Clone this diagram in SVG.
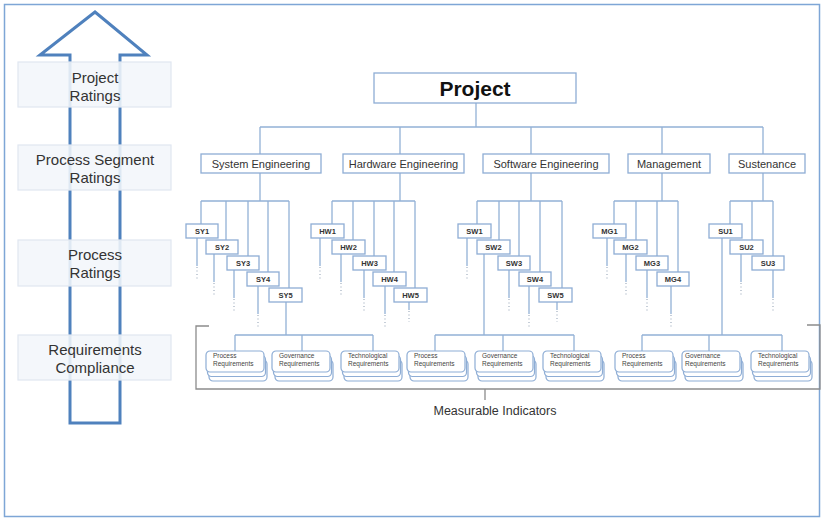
<svg xmlns="http://www.w3.org/2000/svg" width="823" height="519" viewBox="0 0 823 519">
<style>
.ln{stroke:#93b1d6;stroke-width:1.3;fill:none}
.dot{stroke:#a8b4c4;stroke-width:1.3;stroke-dasharray:1 2.5;fill:none}
.bx{fill:#fff;stroke:#8eadd5;stroke-width:1.3}
.lb{fill:#f3f6fb;fill-opacity:0.88;stroke:#dfe6f1;stroke-width:1.2}
.lt{font-family:"Liberation Sans",Arial,sans-serif;font-size:15px;fill:#333;text-anchor:middle}
.st{font-family:"Liberation Sans",Arial,sans-serif;font-size:11px;fill:#333;text-anchor:middle}
.ct{font-family:"Liberation Sans",Arial,sans-serif;font-size:7.5px;font-weight:bold;fill:#333;text-anchor:middle}
.rq{fill:#fff;stroke:#8eadd5;stroke-width:1.2}
.rt{font-family:"Liberation Sans",Arial,sans-serif;font-size:6.5px;fill:#444}
.br{stroke:#8c8c8c;stroke-width:1.3;fill:none}
</style>
<defs>
<g id="stack">
<rect class="rq" x="3" y="9" width="58" height="21" rx="4"/>
<rect class="rq" x="1.5" y="4.5" width="58" height="21" rx="4"/>
<rect class="rq" x="0" y="0" width="58" height="21" rx="4"/>
</g>
</defs>
<rect x="4.5" y="4.5" width="815" height="512" fill="#fff" stroke="#7ea6d6" stroke-width="1.5"/>

<g id="arrow">
<polygon points="95,12 147,55 120,55 120,423 70,423 70,55 40,55" fill="none" stroke="#4f81bd" stroke-width="3" stroke-linejoin="miter"/>
</g>
<g id="label-project-ratings"><rect class="lb" x="18" y="62" width="153" height="45"/><text class="lt" x="95" y="83">Project</text><text class="lt" x="95" y="101">Ratings</text></g>
<g id="label-segment-ratings"><rect class="lb" x="18" y="145" width="153" height="45"/><text class="lt" x="95" y="165">Process Segment</text><text class="lt" x="95" y="183">Ratings</text></g>
<g id="label-process-ratings"><rect class="lb" x="18" y="240" width="153" height="46"/><text class="lt" x="95" y="260">Process</text><text class="lt" x="95" y="278">Ratings</text></g>
<g id="label-req-compliance"><rect class="lb" x="18" y="335" width="153" height="45"/><text class="lt" x="95" y="355">Requirements</text><text class="lt" x="95" y="373">Compliance</text></g>

<g id="connectors">
<path class="ln" d="M476,103V127M260,127H763M260,127V154M400,127V154M531,127V154M662,127V154M763,127V154"/>
<path class="ln" d="M260,173V201M201,201H289M201,201V224M226,201V240M248,201V256M268,201V272M289,201V288"/>
<path class="ln" d="M400,173V201M332,201H415M332,201V224M353,201V240M374,201V256M394,201V272M415,201V288"/>
<path class="ln" d="M531,173V201M477,201H562M477,201V224M499,201V240M519,201V256M540,201V272M562,201V288"/>
<path class="ln" d="M662,173V201M614,201H678M614,201V224M636,201V240M657,201V256M678,201V272"/>
<path class="ln" d="M763,173V201M730,201H773M730,201V224M752,201V240M773,201V256"/>
<path class="ln" d="M197,238V266M214,254V282M234,270V298M258,286V314M320,238V266M341,254V282M364,270V298M385,286V314M409,302V310M467,238V266M509,270V298M529,286V314M557,302V310M607,238V266M626,254V282M647,270V298M671,286V314M741,254V282M773,270V298"/>
<path class="dot" d="M197,267V281M214,283V297M234,299V313M258,315V329M320,267V281M341,283V297M364,299V313M385,315V329M409,311V322M467,267V281M509,299V313M529,315V329M557,311V322M607,267V281M626,283V297M647,299V313M671,315V329M741,283V297M773,299V313"/>
<path class="ln" d="M286,302V335M235,335H373M235,335V351M302,335V351M373,335V351"/>
<path class="ln" d="M484,254V335M435,335H574M435,335V351M503,335V351M574,335V351"/>
<path class="ln" d="M722,238V335M642,335H782M642,335V351M709,335V351M782,335V351"/>
<path class="br" d="M209,326H196V389H820V325H807M485,389V400"/>
</g>

<g id="project"><rect class="bx" x="374" y="73" width="202" height="30"/><text x="475" y="96" text-anchor="middle" font-family="Liberation Sans,Arial,sans-serif" font-size="21" font-weight="bold" fill="#111">Project</text></g>

<g id="system-engineering"><rect class="bx" x="201" y="154" width="120" height="19"/><text class="st" x="261" y="168">System Engineering</text></g>
<g id="hardware-engineering"><rect class="bx" x="343" y="154" width="121" height="19"/><text class="st" x="403.5" y="168">Hardware Engineering</text></g>
<g id="software-engineering"><rect class="bx" x="483" y="154" width="126" height="19"/><text class="st" x="546" y="168">Software Engineering</text></g>
<g id="management"><rect class="bx" x="628" y="154" width="82" height="19"/><text class="st" x="669" y="168">Management</text></g>
<g id="sustenance"><rect class="bx" x="729" y="154" width="76" height="19"/><text class="st" x="767" y="168">Sustenance</text></g>

<g id="SY1"><rect class="bx" x="186" y="224" width="32" height="14"/><text class="ct" x="202" y="234">SY1</text></g>
<g id="SY2"><rect class="bx" x="206" y="240" width="32" height="14"/><text class="ct" x="222" y="250">SY2</text></g>
<g id="SY3"><rect class="bx" x="227" y="256" width="32" height="14"/><text class="ct" x="243" y="266">SY3</text></g>
<g id="SY4"><rect class="bx" x="247" y="272" width="32" height="14"/><text class="ct" x="263" y="282">SY4</text></g>
<g id="SY5"><rect class="bx" x="269" y="288" width="33" height="14"/><text class="ct" x="285.5" y="298">SY5</text></g>

<g id="HW1"><rect class="bx" x="311" y="224" width="33" height="14"/><text class="ct" x="327.5" y="234">HW1</text></g>
<g id="HW2"><rect class="bx" x="332" y="240" width="33" height="14"/><text class="ct" x="348.5" y="250">HW2</text></g>
<g id="HW3"><rect class="bx" x="353" y="256" width="33" height="14"/><text class="ct" x="369.5" y="266">HW3</text></g>
<g id="HW4"><rect class="bx" x="373" y="272" width="33" height="14"/><text class="ct" x="389.5" y="282">HW4</text></g>
<g id="HW5"><rect class="bx" x="394" y="288" width="33" height="14"/><text class="ct" x="410.5" y="298">HW5</text></g>

<g id="SW1"><rect class="bx" x="458" y="224" width="33" height="14"/><text class="ct" x="474.5" y="234">SW1</text></g>
<g id="SW2"><rect class="bx" x="477" y="240" width="33" height="14"/><text class="ct" x="493.5" y="250">SW2</text></g>
<g id="SW3"><rect class="bx" x="498" y="256" width="32" height="14"/><text class="ct" x="514" y="266">SW3</text></g>
<g id="SW4"><rect class="bx" x="519" y="272" width="32" height="14"/><text class="ct" x="535" y="282">SW4</text></g>
<g id="SW5"><rect class="bx" x="539" y="288" width="33" height="14"/><text class="ct" x="555.5" y="298">SW5</text></g>

<g id="MG1"><rect class="bx" x="593" y="224" width="33" height="14"/><text class="ct" x="609.5" y="234">MG1</text></g>
<g id="MG2"><rect class="bx" x="614" y="240" width="33" height="14"/><text class="ct" x="630.5" y="250">MG2</text></g>
<g id="MG3"><rect class="bx" x="636" y="256" width="32" height="14"/><text class="ct" x="652" y="266">MG3</text></g>
<g id="MG4"><rect class="bx" x="657" y="272" width="32" height="14"/><text class="ct" x="673" y="282">MG4</text></g>

<g id="SU1"><rect class="bx" x="709" y="224" width="33" height="14"/><text class="ct" x="725.5" y="234">SU1</text></g>
<g id="SU2"><rect class="bx" x="730" y="240" width="33" height="14"/><text class="ct" x="746.5" y="250">SU2</text></g>
<g id="SU3"><rect class="bx" x="752" y="256" width="32" height="14"/><text class="ct" x="768" y="266">SU3</text></g>

<g id="req-se-process"><use href="#stack" x="206" y="351"/><text class="rt" x="213" y="358">Process</text><text class="rt" x="213" y="366">Requirements</text></g>
<g id="req-se-governance"><use href="#stack" x="272" y="351"/><text class="rt" x="279" y="358">Governance</text><text class="rt" x="279" y="366">Requirements</text></g>
<g id="req-se-technological"><use href="#stack" x="341" y="351"/><text class="rt" x="348" y="358">Technological</text><text class="rt" x="348" y="366">Requirements</text></g>
<g id="req-sw-process"><use href="#stack" x="407" y="351"/><text class="rt" x="414" y="358">Process</text><text class="rt" x="414" y="366">Requirements</text></g>
<g id="req-sw-governance"><use href="#stack" x="475" y="351"/><text class="rt" x="482" y="358">Governance</text><text class="rt" x="482" y="366">Requirements</text></g>
<g id="req-sw-technological"><use href="#stack" x="543" y="351"/><text class="rt" x="550" y="358">Technological</text><text class="rt" x="550" y="366">Requirements</text></g>
<g id="req-su-process"><use href="#stack" x="615" y="351"/><text class="rt" x="622" y="358">Process</text><text class="rt" x="622" y="366">Requirements</text></g>
<g id="req-su-governance"><use href="#stack" x="682" y="351"/><text class="rt" x="685" y="358">Governance</text><text class="rt" x="685" y="366">Requirements</text></g>
<g id="req-su-technological"><use href="#stack" x="751" y="351"/><text class="rt" x="758" y="358">Technological</text><text class="rt" x="758" y="366">Requirements</text></g>

<g id="measurable-indicators"><text x="495" y="415" text-anchor="middle" font-family="Liberation Sans,Arial,sans-serif" font-size="12.5" fill="#333">Measurable Indicators</text></g>
</svg>
